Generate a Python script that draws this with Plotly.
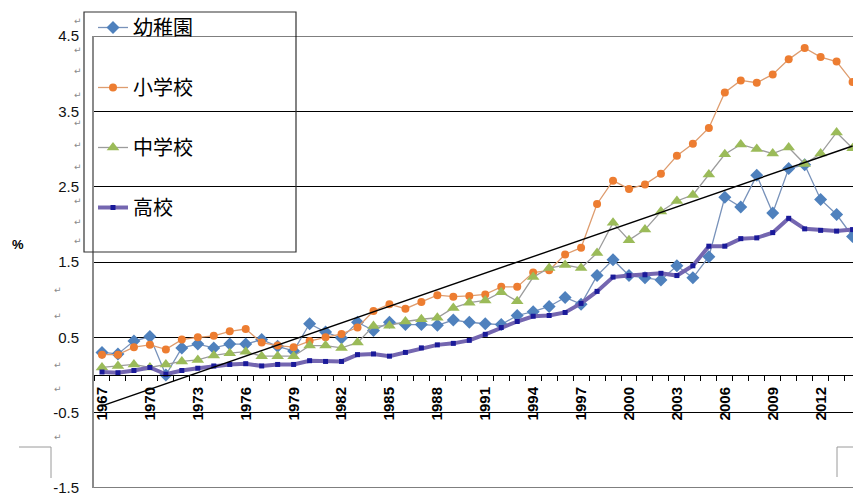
import plotly.graph_objects as go

years = list(range(1967, 2015))
tick_years = [1967, 1970, 1973, 1976, 1979, 1982, 1985, 1988, 1991, 1994, 1997, 2000, 2003, 2006, 2009, 2012]
tick_labels = [str(y) for y in tick_years]
y_ticks = [-1.5, -0.5, 0.5, 1.5, 2.5, 3.5, 4.5]
y_tick_labels = ["-1.5", "-0.5", "0.5", "1.5", "2.5", "3.5", "4.5"]

kinder = [0.30, 0.28, 0.45, 0.51, 0.00, 0.36, 0.41, 0.36, 0.41, 0.41,
          0.47, 0.38, 0.32, 0.68, 0.57, 0.49, 0.70, 0.59, 0.70, 0.67,
          0.67, 0.66, 0.73, 0.70, 0.68, 0.67, 0.79, 0.84, 0.91, 1.03,
          0.94, 1.32, 1.53, 1.32, 1.29, 1.26, 1.45, 1.29, 1.57, 2.36,
          2.23, 2.65, 2.15, 2.74, 2.79, 2.33, 2.13, 1.84]
elementary = [0.27, 0.27, 0.37, 0.40, 0.34, 0.47, 0.50, 0.52, 0.58, 0.61,
              0.43, 0.39, 0.37, 0.45, 0.50, 0.545, 0.63, 0.85, 0.94, 0.88,
              0.97, 1.06, 1.04, 1.05, 1.07, 1.17, 1.17, 1.36, 1.39, 1.60,
              1.69, 2.27, 2.58, 2.47, 2.53, 2.67, 2.91, 3.07, 3.28, 3.75,
              3.91, 3.88, 3.99, 4.19, 4.34, 4.22, 4.16, 3.89]
junior = [0.10, 0.12, 0.14, 0.10, 0.14, 0.18, 0.20, 0.26, 0.29, 0.31,
          0.25, 0.25, 0.25, 0.39, 0.39, 0.36, 0.43, 0.65, 0.655, 0.71,
          0.74, 0.76, 0.89, 0.96, 0.99, 1.10, 0.98, 1.30, 1.42, 1.46,
          1.42, 1.62, 2.02, 1.79, 1.93, 2.17, 2.31, 2.39, 2.66, 2.93,
          3.06, 3.00, 2.94, 3.02, 2.80, 2.94, 3.22, 3.01]
high = [0.04, 0.03, 0.06, 0.10, 0.01, 0.06, 0.09, 0.12, 0.14, 0.15,
        0.12, 0.14, 0.14, 0.19, 0.18, 0.18, 0.27, 0.28, 0.25, 0.30,
        0.36, 0.40, 0.42, 0.46, 0.54, 0.63, 0.71, 0.78, 0.79, 0.83,
        0.95, 1.11, 1.30, 1.32, 1.33, 1.35, 1.32, 1.45, 1.71, 1.71,
        1.81, 1.82, 1.89, 2.08, 1.94, 1.92, 1.91, 1.93]
trend_years = [1967, 2014]
trend_values = [-0.41, 3.04]

names = ["幼稚園", "小学校", "中学校", "高校"]

W, H = 853, 496
L, R, T, B = 94, 0, 36, 8
PW, PH = W - L - R, H - T - B


def px(xp):
    return (xp - L) / PW


def py(yp):
    return (H - B - yp) / PH


fig = go.Figure()
fig.add_trace(go.Scatter(x=years, y=kinder, name=names[0], mode="lines+markers", legendgroup="a",
                         line=dict(color="#7892BA", width=1.3),
                         marker=dict(symbol="diamond", size=10, color="#4F81BD")))
fig.add_trace(go.Scatter(x=years, y=elementary, name=names[1], mode="lines+markers", legendgroup="b",
                         line=dict(color="#DE9C6E", width=1.3),
                         marker=dict(symbol="circle", size=8, color="#ED7D31")))
fig.add_trace(go.Scatter(x=years, y=junior, name=names[2], mode="lines+markers", legendgroup="c",
                         line=dict(color="#9C9C9C", width=1.3),
                         marker=dict(symbol="triangle-up", size=11, color="#9BBB59")))
fig.add_trace(go.Scatter(x=years, y=high, name=names[3], mode="lines+markers", legendgroup="d",
                         line=dict(color="#7466B0", width=4),
                         marker=dict(symbol="square", size=5, color="#1A1A9A")))
fig.add_trace(go.Scatter(x=trend_years, y=trend_values, mode="lines", showlegend=False,
                         line=dict(color="black", width=1.4), hoverinfo="skip"))

tick_font = dict(family="Liberation Sans Narrow, Arial Narrow, Liberation Sans, Arial, sans-serif",
                 size=15, color="#111")

fig.update_layout(
    width=W, height=H,
    margin=dict(l=L, r=R, t=T, b=B, pad=0),
    paper_bgcolor="white", plot_bgcolor="white",
    showlegend=True,
    legend=dict(x=px(93), y=py(8), xanchor="left", yanchor="top",
                bgcolor="rgba(0,0,0,0)", borderwidth=0,
                font=dict(family="Noto Sans CJK JP", size=20, color="black"),
                tracegroupgap=31, itemwidth=30),
    xaxis=dict(range=[1966.5, 1966.5 + PW / 15.97], anchor="free", position=1.5 / 6,
               tickmode="array", tickvals=tick_years, ticktext=tick_labels,
               tickangle=-90, ticks="outside", ticklen=5, tickcolor="rgba(0,0,0,0)",
               tickfont=dict(family="Liberation Sans Narrow, Arial Narrow, Liberation Sans, Arial, sans-serif",
                             size=15, color="black", weight="bold"),
               showline=True, linecolor="black", linewidth=1,
               showgrid=False, zeroline=False,
               minor=dict(tick0=1966.5, dtick=1, ticks="outside", ticklen=5, tickcolor="black",
                          showgrid=False)),
    yaxis=dict(range=[-1.5, 4.5], tickmode="array", tickvals=y_ticks, ticktext=y_tick_labels,
               showgrid=True, gridcolor="black", gridwidth=1,
               zeroline=False, showline=True, linecolor="#8a8a8a", linewidth=2,
               ticks="", ticklabelstandoff=10, ticklabeloverflow="allow", tickfont=tick_font),
)

# legend frame (transparent) as in the original
fig.add_shape(type="rect", xref="paper", yref="paper", x0=px(84), x1=px(296), y0=py(252), y1=py(12),
              line=dict(color="#333", width=1.2), fillcolor="rgba(0,0,0,0)", layer="above")
# top and bottom frame lines at 4.5 / -1.5
fig.add_shape(type="line", xref="paper", yref="y", x0=0, x1=1, y0=4.5, y1=4.5,
              line=dict(color="black", width=1), layer="above")
fig.add_shape(type="line", xref="paper", yref="y", x0=0, x1=1, y0=-1.5, y1=-1.5,
              line=dict(color="black", width=1.2), layer="above")
# corner artefacts
fig.add_shape(type="path", xref="paper", yref="paper",
              path=f"M {px(19)} {py(447)} L {px(51)} {py(447)} L {px(51)} {py(478)}",
              line=dict(color="#9a9a9a", width=1))
fig.add_shape(type="path", xref="paper", yref="paper",
              path=f"M {px(853)} {py(447)} L {px(837)} {py(447)} L {px(837)} {py(477)}",
              line=dict(color="#9a9a9a", width=1))

ann = []
ann.append(dict(x=px(18), y=py(244), xref="paper", yref="paper", text="<b>%</b>", showarrow=False,
                xanchor="center", yanchor="middle",
                font=dict(family="Liberation Sans Narrow, Arial Narrow, Liberation Sans, sans-serif", size=13, color="black")))
for yy in [21, 50, 71, 95, 123, 145, 167, 201, 222, 241]:
    ann.append(dict(x=px(78), y=py(yy), xref="paper", yref="paper", text="↵", showarrow=False,
                    xanchor="center", yanchor="middle",
                    font=dict(family="DejaVu Sans", size=9, color="#8a8a8a")))
for yy in [290, 316, 365, 389, 437]:
    ann.append(dict(x=px(58), y=py(yy), xref="paper", yref="paper", text="↵", showarrow=False,
                    xanchor="center", yanchor="middle",
                    font=dict(family="DejaVu Sans", size=9, color="#8a8a8a")))
fig.update_layout(annotations=ann)

fig.write_html("out.html")
